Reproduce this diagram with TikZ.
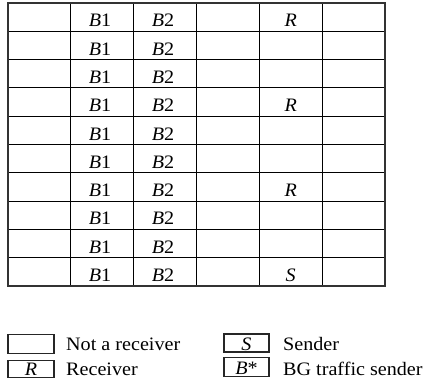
\documentclass[tikz,border=0pt]{standalone}
\usepackage{fontspec}
\setmainfont{Liberation Serif}[FakeStretch=1.06]
\begin{document}
\begin{tikzpicture}[x=1pt,y=-1pt,
  gridline/.style={line width=1.1pt,black},
  outerline/.style={line width=1.6pt,black!80},
  celltext/.style={anchor=base,inner sep=0pt,font=\fontsize{19}{21}\selectfont},
  legtext/.style={anchor=base west,inner sep=0pt,font=\fontsize{19}{21}\selectfont},
  legbox/.style={draw,line width=1.1pt,black!85,inner sep=0pt}]
\useasboundingbox (0,0) rectangle (427,385);
% grid
\foreach \i in {1,...,5}{
  \draw[gridline] ({8+62.833*\i},3) -- ({8+62.833*\i},286);
}
\foreach \j in {1,...,9}{
  \draw[gridline] (8,{3+28.3*\j}) -- (385,{3+28.3*\j});
}
\draw[outerline] (8,3) rectangle (385,286);
% cell texts
\foreach \j in {1,...,10}{
  \node[celltext] (b1r\j) at (100,{3+28.3*\j-4.5}) {\textit{B}1};
  \node[celltext] (b2r\j) at (163,{3+28.3*\j-4.5}) {\textit{B}2};
}
\node[celltext] (r1) at (290.7,{3+28.3*1-4.5}) {\textit{R}};
\node[celltext] (r4) at (290.7,{3+28.3*4-4.5}) {\textit{R}};
\node[celltext] (r7) at (290.7,{3+28.3*7-4.5}) {\textit{R}};
\node[celltext] (s10) at (290.7,{3+28.3*10-4.5}) {\textit{S}};
% legend
\node[legbox,minimum width=46pt,minimum height=19pt] (lb1) at (31,344) {};
\node[legbox,minimum width=46pt,minimum height=17pt] (lb2) at (31,369) {};
\node[celltext] (lbR) at (31,375) {\textit{R}};
\node[legbox,minimum width=45pt,minimum height=18pt] (lb3) at (246.5,343) {};
\node[legbox,minimum width=45pt,minimum height=19pt] (lb4) at (246.5,367) {};
\node[celltext] (lbS) at (246.5,350) {\textit{S}};
\node[celltext] (lbB) at (246.5,374) {\textit{B}*};
\node[legtext] (t1) at (66,350) {Not a receiver};
\node[legtext] (t2) at (66,375.5) {Receiver};
\node[legtext] (t3) at (283,350) {Sender};
\node[legtext] (t4) at (283,375.5) {BG traffic sender};
\end{tikzpicture}
\end{document}
